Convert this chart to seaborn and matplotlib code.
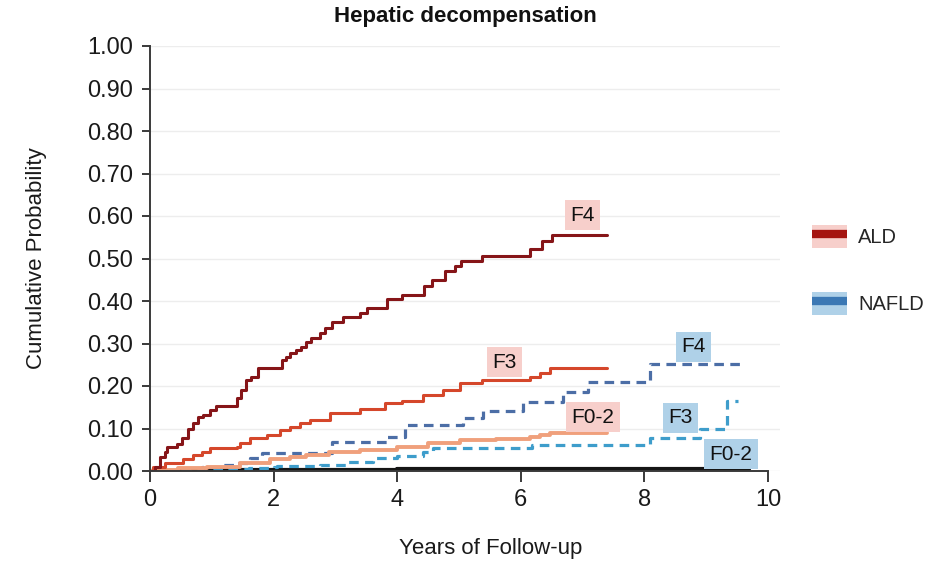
import matplotlib
matplotlib.use("Agg")
import matplotlib.pyplot as plt
from matplotlib.patches import Patch
from matplotlib.lines import Line2D
from matplotlib.legend_handler import HandlerTuple
import pandas as pd
import seaborn as sns

# Cumulative probability of hepatic decompensation by fibrosis stage
ald_f4_t = [0, 0.08, 0.16, 0.24, 0.27, 0.43, 0.51, 0.62, 0.70, 0.78, 0.86, 0.97, 1.07, 1.40,
            1.48, 1.56, 1.64, 1.75, 2.13, 2.20, 2.27, 2.36, 2.44, 2.53, 2.61, 2.75, 2.83, 2.94,
            3.13, 3.40, 3.51, 3.84, 4.08, 4.43, 4.56, 4.78, 4.94, 5.04, 5.37, 6.15, 6.34, 6.50, 7.40]
ald_f4_p = [0, 0.010, 0.034, 0.045, 0.056, 0.064, 0.078, 0.099, 0.113, 0.127, 0.132, 0.144, 0.153,
            0.172, 0.190, 0.214, 0.222, 0.242, 0.261, 0.269, 0.277, 0.285, 0.292, 0.304, 0.314,
            0.325, 0.336, 0.351, 0.363, 0.372, 0.384, 0.405, 0.414, 0.435, 0.449, 0.471, 0.482,
            0.494, 0.506, 0.522, 0.540, 0.555, 0.555]

ald_f3_t = [0, 0.05, 0.24, 0.54, 0.70, 0.84, 0.97, 1.40, 1.46, 1.62, 1.89, 2.10, 2.27, 2.43,
            2.59, 2.91, 3.40, 3.80, 4.07, 4.42, 4.74, 5.02, 5.37, 6.15, 6.31, 6.47, 7.40]
ald_f3_p = [0, 0.010, 0.019, 0.028, 0.038, 0.045, 0.053, 0.056, 0.066, 0.078, 0.085, 0.096,
            0.104, 0.113, 0.120, 0.136, 0.146, 0.159, 0.165, 0.179, 0.190, 0.206, 0.213, 0.222,
            0.231, 0.242, 0.242]

ald_f02_t = [0, 0.10, 0.45, 0.92, 1.46, 1.94, 2.27, 2.53, 2.90, 3.40, 3.99, 4.50, 5.02, 5.60,
             6.15, 6.31, 6.47, 7.40]
ald_f02_p = [0, 0.003, 0.006, 0.010, 0.018, 0.028, 0.034, 0.038, 0.044, 0.050, 0.057, 0.066,
             0.073, 0.076, 0.079, 0.085, 0.090, 0.090]

nafld_f4_t = [0, 0.45, 0.84, 1.13, 1.40, 1.62, 1.81, 2.94, 3.83, 4.12, 5.07, 5.39, 6.04, 6.69,
              7.09, 8.09, 9.55]
nafld_f4_p = [0, 0.003, 0.010, 0.014, 0.020, 0.030, 0.043, 0.068, 0.079, 0.108, 0.125, 0.142,
              0.163, 0.185, 0.210, 0.251, 0.251]

nafld_f3_t = [0, 0.3, 0.9, 1.2, 1.6, 2.0, 2.05, 2.75, 3.20, 3.61, 3.99, 4.42, 4.58, 6.18, 8.09,
              8.90, 9.33, 9.52]
nafld_f3_p = [0, 0.001, 0.003, 0.005, 0.007, 0.010, 0.012, 0.015, 0.022, 0.031, 0.036, 0.044,
              0.054, 0.061, 0.077, 0.100, 0.165, 0.165]

nafld_f02_t = [0, 0.9, 1.3, 4.0, 5.9, 9.7]
nafld_f02_p = [0, 0.002, 0.003, 0.004, 0.005, 0.005]

y_ticks = [0.0, 0.1, 0.2, 0.3, 0.4, 0.5, 0.6, 0.7, 0.8, 0.9, 1.0]
x_ticks = [0, 2, 4, 6, 8, 10]

ALD_LIGHT = "#F7CFCB"
NAFLD_LIGHT = "#AFD1E8"

curves = [
    # (times, probs, color, linewidth, dashed)
    (nafld_f02_t, nafld_f02_p, "#151515", 3.0, False),
    (nafld_f3_t, nafld_f3_p, "#3E9DCB", 2.3, True),
    (nafld_f4_t, nafld_f4_p, "#4C6EA6", 2.3, True),
    (ald_f02_t, ald_f02_p, "#F0A07C", 2.8, False),
    (ald_f3_t, ald_f3_p, "#D5472B", 2.2, False),
    (ald_f4_t, ald_f4_p, "#861518", 2.2, False),
]

sns.set_theme(style="white")
plt.rcParams["font.family"] = ["Liberation Sans", "DejaVu Sans"]

fig = plt.figure(figsize=(9.32, 5.67), dpi=100)
ax = fig.add_axes([150 / 932, 1 - 471 / 567, 630.4 / 932, 425 / 567])

for t, p, color, lw, dashed in curves:
    df = pd.DataFrame({"Years": t, "Prob": p})
    kw = dict(dashes=(3, 2)) if dashed else {}
    sns.lineplot(data=df, x="Years", y="Prob", ax=ax, color=color, lw=lw,
                 drawstyle="steps-post", estimator=None, sort=False, **kw)

ax.set_xlim(0, 10.2)
ax.set_ylim(0, 1.0)
ax.set_xticks(x_ticks)
ax.set_yticks(y_ticks)
ax.set_yticklabels([f"{v:.2f}" for v in y_ticks])
ax.yaxis.grid(True, color="#EDEDED", lw=1.0)
ax.set_axisbelow(True)

for side in ("top", "right"):
    ax.spines[side].set_visible(False)
for side in ("left", "bottom"):
    ax.spines[side].set_color("#3A3A3A")
    ax.spines[side].set_linewidth(1.4)
ax.spines["bottom"].set_bounds(0, 10)

ax.tick_params(axis="both", which="major", direction="out", colors="#3A3A3A",
               labelcolor="#1A1A1A", labelsize=17, width=1.4)
ax.tick_params(axis="y", length=6, pad=6)
ax.tick_params(axis="x", length=8, pad=5)
ax.tick_params(axis="both", left=True, bottom=True)

ax.set_xlabel("Years of Follow-up", fontsize=16, color="#1A1A1A")
ax.set_ylabel("Cumulative Probability", fontsize=16, color="#1A1A1A")
ax.xaxis.set_label_coords(0.54, -0.158)
ax.yaxis.set_label_coords(-0.164, 0.5)
ax.set_title("Hepatic decompensation", fontsize=16, fontweight="bold",
             color="#111111", pad=17)

# Stage labels next to each curve
stage_labels = [
    ("F4", 7.00, 0.602, ALD_LIGHT),
    ("F3", 5.74, 0.256, ALD_LIGHT),
    ("F0-2", 7.17, 0.127, ALD_LIGHT),
    ("F4", 8.79, 0.292, NAFLD_LIGHT),
    ("F3", 8.59, 0.125, NAFLD_LIGHT),
    ("F0-2", 9.40, 0.040, NAFLD_LIGHT),
]
for text, x, y, bg in stage_labels:
    ax.text(x, y, text, ha="center", va="center", fontsize=15, color="#111111",
            bbox=dict(boxstyle="square,pad=0.25", fc=bg, ec="none"), zorder=5)

handles = [
    (Patch(facecolor=ALD_LIGHT, edgecolor="none"),
     Line2D([], [], color="#A51410", lw=6, solid_capstyle="butt")),
    (Patch(facecolor=NAFLD_LIGHT, edgecolor="none"),
     Line2D([], [], color="#3B78B4", lw=6, solid_capstyle="butt")),
]
fig.legend(handles, ["ALD", "NAFLD"], loc="upper left",
           bbox_to_anchor=(798 / 932, 1 - 211 / 567), frameon=False, fontsize=14.5,
           handler_map={tuple: HandlerTuple(ndivide=1, pad=0)},
           handlelength=1.75, handleheight=1.35, handletextpad=0.55, labelspacing=2.2,
           borderpad=0.2)

fig.savefig("out.png", dpi=100)
